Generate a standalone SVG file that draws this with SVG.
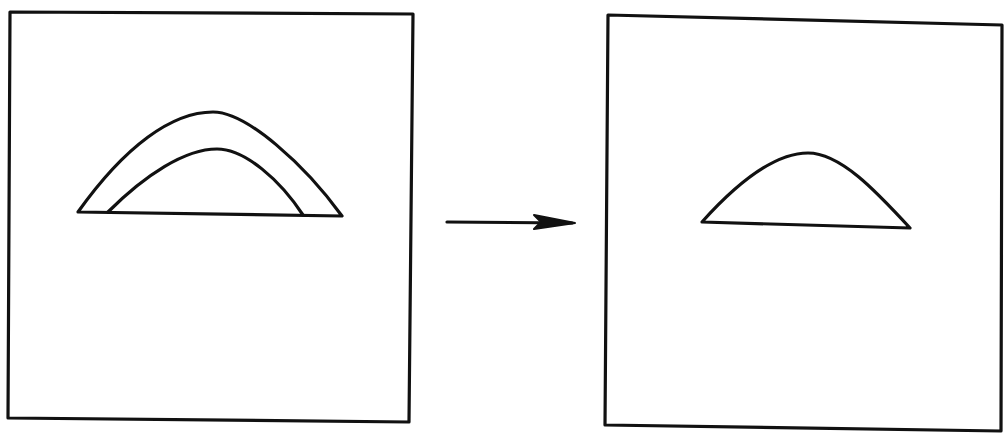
<svg xmlns="http://www.w3.org/2000/svg" width="1004" height="435" viewBox="0 0 1004 435">
<style>
.ln{fill:none;stroke:#111;stroke-width:3.2;stroke-linejoin:round;stroke-linecap:round}
.head{fill:#111;stroke:#111;stroke-width:2;stroke-linejoin:round}
</style>
<rect width="1004" height="435" fill="#fff"/>
<g id="left-panel">
<polygon class="ln" points="10,12 413,14 409,422 8,418"/>
<path class="ln" d="M78,212 C125,146 172,112 213,112 C247,112 305,165 342,216 Z"/>
<path class="ln" d="M108,212 C145,175 185,149 217,149 C245,149 280,180 303,215"/>
</g>
<g id="right-panel">
<polygon class="ln" points="608,15 1002,25 1001,431 605,425"/>
<path class="ln" d="M702,222 C738,182 775,153 808,153 C840,153 875,190 910,228 Z"/>
</g>
<g id="connectors">
<line class="ln" x1="447" y1="222" x2="572" y2="223"/>
<path class="head" d="M534,215 L575,223 L534,229 L541,222 Z"/>
</g>
</svg>
